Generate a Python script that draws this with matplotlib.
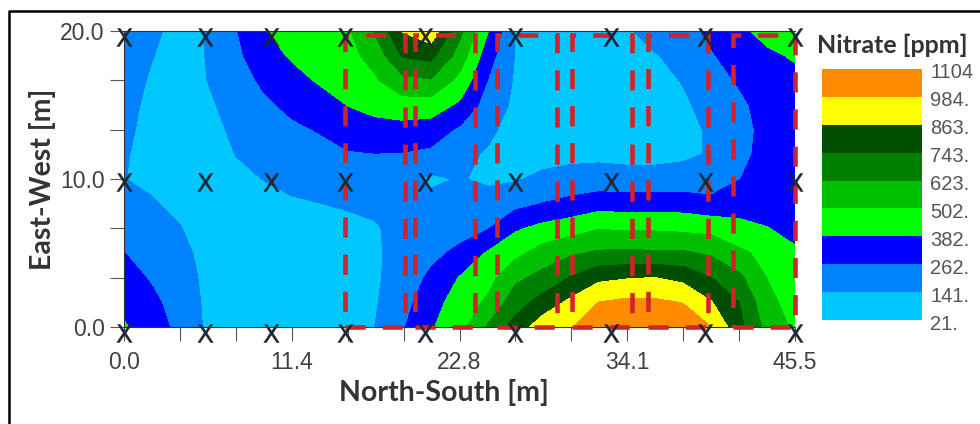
import numpy as np
import matplotlib
matplotlib.use("Agg")
import matplotlib.pyplot as plt
from matplotlib.lines import Line2D
from matplotlib.patches import Rectangle

# nitrate readings, one list per column, top (y=20) to bottom (y=0)
x_grid = [0.0, 1.9, 3.8, 5.7, 7.6, 9.5, 11.4, 13.3, 15.2, 17.0, 18.9, 20.8, 22.8,
          24.7, 26.5, 28.4, 30.3, 32.2, 34.1, 36.0, 37.9, 39.8, 41.7, 43.6, 45.5]
y_grid = [20.0, 18.33, 16.67, 15.0, 13.33, 11.67, 10.0, 8.33, 6.67, 5.0, 3.33, 1.67, 0.0]
nitrate_by_column = [
    [210, 200, 190, 175, 165, 152, 143, 175, 225, 263, 305, 345, 395],
    [165, 145, 128, 115, 105, 100, 120, 150, 195, 225, 250, 285, 325],
    [100, 95, 90, 85, 85, 88, 95, 115, 145, 175, 195, 215, 225],
    [150, 147, 143, 125, 110, 100, 90, 85, 90, 100, 110, 115, 120],
    [255, 235, 205, 180, 160, 143, 120, 100, 90, 85, 85, 85, 85],
    [375, 335, 285, 240, 205, 175, 143, 115, 95, 85, 85, 85, 85],
    [440, 395, 345, 290, 240, 200, 165, 130, 105, 90, 85, 85, 85],
    [465, 445, 395, 335, 270, 225, 175, 140, 110, 95, 90, 90, 90],
    [490, 465, 425, 385, 325, 250, 190, 150, 120, 105, 100, 100, 105],
    [630, 545, 485, 415, 345, 258, 215, 165, 130, 125, 125, 130, 141],
    [870, 755, 590, 450, 340, 255, 175, 190, 180, 180, 190, 215, 250],
    [950, 780, 615, 445, 325, 235, 120, 175, 190, 230, 285, 340, 370],
    [650, 565, 465, 360, 240, 165, 148, 165, 215, 290, 390, 430, 460],
    [385, 310, 255, 205, 160, 130, 120, 190, 255, 395, 460, 525, 640],
    [140, 138, 130, 120, 105, 90, 130, 225, 365, 465, 595, 685, 790],
    [110, 100, 90, 85, 85, 100, 165, 265, 415, 555, 660, 790, 930],
    [95, 85, 80, 80, 85, 110, 185, 295, 450, 605, 750, 890, 970],
    [100, 85, 80, 80, 85, 115, 190, 330, 495, 640, 835, 985, 1100],
    [130, 110, 90, 85, 85, 110, 180, 325, 485, 645, 855, 1010, 1100],
    [175, 135, 110, 95, 90, 110, 180, 325, 485, 640, 865, 1005, 1100],
    [205, 170, 146, 125, 110, 120, 190, 325, 475, 640, 830, 980, 1080],
    [290, 250, 210, 175, 155, 150, 200, 295, 465, 605, 745, 870, 985],
    [355, 315, 275, 235, 215, 225, 258, 325, 420, 525, 650, 745, 780],
    [420, 360, 330, 310, 300, 305, 315, 340, 385, 470, 500, 540, 585],
    [450, 395, 350, 330, 320, 320, 325, 335, 355, 395, 420, 445, 480],
]

levels = [21, 141, 262, 382, 502, 623, 743, 863, 984, 1104]
level_labels = ["21.", "141.", "262.", "382.", "502.", "623.", "743.", "863.", "984.", "1104"]
level_colors = ["#00c8ff", "#0082ff", "#0000ff", "#00ff00", "#00c000",
                "#008000", "#004f00", "#ffff00", "#ff8c00"]

# sampling positions (x marks)
sample_x = [0.0, 5.5, 10.0, 15.0, 20.4, 26.5, 33.0, 39.4, 45.5]
sample_y = [-0.4, 9.8, 19.6]

# red dashed plots: left, right, top edge
plot_left = [15.0, 19.73, 25.29, 30.38, 35.53, 41.3]
plot_right = [19.05, 23.8, 29.36, 34.45, 39.6, 45.5]
plot_top = 19.7

x_major = [0.0, 11.375, 22.75, 34.125, 45.5]
x_major_labels = ["0.0", "11.4", "22.8", "34.1", "45.5"]
y_major = [0.0, 10.0, 20.0]
y_major_labels = ["0.0", "10.0", "20.0"]

W, H = 980, 424
fig = plt.figure(figsize=(W / 100, H / 100), dpi=100)

ax = fig.add_axes([124 / W, 1 - 327 / H, (795 - 124) / W, (327 - 31) / H])
Z = np.array(nitrate_by_column).T
ax.contourf(x_grid, y_grid, Z, levels=levels, colors=level_colors, zorder=1)
ax.set_xlim(0, 45.5)
ax.set_ylim(0, 20)

for l, r in zip(plot_left, plot_right):
    rect = Rectangle((l, 0), r - l, plot_top, fill=False, edgecolor="#d2232a", linewidth=3.3,
                     linestyle=(0, (4.4, 3.7)), clip_on=False, zorder=3)
    ax.add_patch(rect)

sx, sy = np.meshgrid(sample_x, sample_y)
ax.plot(sx.ravel(), sy.ravel(), linestyle="none", marker=r"$\mathrm{X}$", markersize=13,
        markeredgewidth=0.3, color="#1c2733", clip_on=False, zorder=4)

ax.set_xticks(x_major)
ax.set_xticklabels(x_major_labels)
ax.set_yticks(y_major)
ax.set_yticklabels(y_major_labels)
ax.set_xticks(np.linspace(0, 45.5, 13), minor=True)
ax.set_yticks(np.linspace(0, 20, 7), minor=True)
ax.tick_params(which="both", length=10, width=0.8, color="#555555")
ax.tick_params(axis="x", which="major", labelsize=16.5, labelcolor="#404040", pad=7)
ax.tick_params(axis="y", which="major", labelsize=16.5, labelcolor="#404040", pad=4)
for lab in ax.get_xticklabels() + ax.get_yticklabels():
    lab.set_fontfamily("Liberation Sans")

for side in ["top", "bottom", "left"]:
    ax.spines[side].set_linewidth(0.8)
    ax.spines[side].set_color("#333333")
ax.spines["right"].set_visible(False)

fig.text(444 / W, 1 - 392 / H, "North-South [m]", family="Lato", weight="bold", fontsize=20.5,
         color="#333333", ha="center", va="center")
fig.text(42 / W, 1 - 179 / H, "East-West [m]", family="Lato", weight="bold", fontsize=20.5,
         color="#333333", ha="center", va="center", rotation=90)

# colour key
cax = fig.add_axes([822 / W, 1 - 320 / H, 100 / W, 251 / H])
cax.pcolormesh([0, 1], np.arange(len(levels)), np.arange(len(level_colors)).reshape(-1, 1),
               cmap=matplotlib.colors.ListedColormap(level_colors))
cax.axis("off")
fig.text(892 / W, 1 - 45 / H, "Nitrate [ppm]", family="Lato", weight="bold", fontsize=18,
         color="#333333", ha="center", va="center")
for i, lab in enumerate(level_labels):
    y_px = 320 + 4 - i * 28.0
    fig.text(930 / W, 1 - y_px / H, lab, family="Liberation Sans", fontsize=14.5,
             color="#555555", ha="left", va="center")

# outer frame, only top and left show
fig.add_artist(Line2D([9 / W, 9 / W, 1], [0, 1 - 11 / H, 1 - 11 / H], color="black", linewidth=1.8,
                      transform=fig.transFigure))

fig.savefig("out.png", dpi=100)
